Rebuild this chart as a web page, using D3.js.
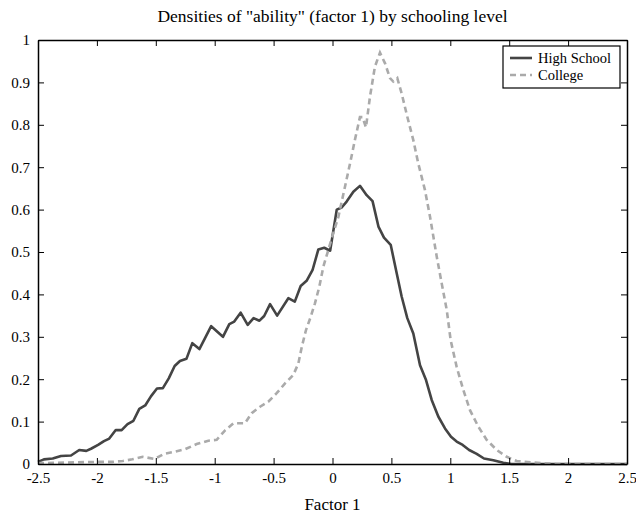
<!DOCTYPE html>
<html>
<head>
<meta charset="utf-8">
<script src="https://cdn.jsdelivr.net/npm/d3@7"></script>
<style>
  body { margin: 0; background: #fff; }
  text { font-family: "Liberation Serif", "DejaVu Serif", serif; fill: #000; }
</style>
</head>
<body>
<svg id="chart" width="636" height="514"></svg>
<script>
// factor 1 values and densities
const hsX = [-2.5, -2.45, -2.375, -2.305, -2.22, -2.15, -2.09, -2.05, -1.99, -1.94, -1.895, -1.84, -1.79, -1.74, -1.69, -1.64, -1.59, -1.54, -1.49, -1.44, -1.39, -1.34, -1.295, -1.24, -1.19, -1.13, -1.03, -0.93, -0.876, -0.834, -0.78, -0.72, -0.67, -0.62, -0.58, -0.53, -0.47, -0.375, -0.32, -0.27, -0.22, -0.17, -0.12, -0.07, -0.02, 0.036, 0.078, 0.12, 0.177, 0.233, 0.29, 0.34, 0.39, 0.437, 0.494, 0.545, 0.587, 0.635, 0.686, 0.743, 0.794, 0.842, 0.898, 0.955, 1.006, 1.054, 1.105, 1.16, 1.224, 1.286, 1.365, 1.45, 1.52, 2.5];
const hsY = [0.005, 0.011, 0.013, 0.019, 0.02, 0.033, 0.031, 0.036, 0.045, 0.054, 0.06, 0.08, 0.08, 0.094, 0.102, 0.13, 0.138, 0.16, 0.178, 0.179, 0.202, 0.231, 0.243, 0.248, 0.285, 0.271, 0.325, 0.300, 0.330, 0.336, 0.357, 0.328, 0.344, 0.338, 0.349, 0.377, 0.35, 0.391, 0.383, 0.42, 0.432, 0.457, 0.506, 0.51, 0.503, 0.60, 0.605, 0.619, 0.642, 0.656, 0.634, 0.62, 0.56, 0.534, 0.517, 0.45, 0.395, 0.344, 0.308, 0.233, 0.198, 0.151, 0.112, 0.084, 0.064, 0.053, 0.045, 0.033, 0.024, 0.013, 0.009, 0.003, 0, 0];

const colX = [-2.5, -2.0, -1.87, -1.78, -1.70, -1.61, -1.51, -1.43, -1.34, -1.25, -1.153, -1.054, -0.983, -0.91, -0.84, -0.743, -0.686, -0.615, -0.545, -0.474, -0.403, -0.333, -0.29, -0.26, -0.225, -0.185, -0.149, -0.112, -0.078, -0.044, -0.007, 0.05, 0.106, 0.149, 0.19, 0.233, 0.255, 0.284, 0.318, 0.36, 0.403, 0.446, 0.488, 0.516, 0.55, 0.587, 0.635, 0.686, 0.728, 0.785, 0.828, 0.885, 0.927, 0.97, 1.003, 1.054, 1.11, 1.167, 1.238, 1.309, 1.394, 1.479, 1.564, 1.68, 1.79, 1.9, 2.5];
const colY = [0.002, 0.005, 0.005, 0.007, 0.011, 0.017, 0.012, 0.024, 0.029, 0.035, 0.047, 0.055, 0.057, 0.08, 0.096, 0.096, 0.12, 0.135, 0.147, 0.167, 0.19, 0.21, 0.237, 0.277, 0.316, 0.347, 0.379, 0.418, 0.465, 0.497, 0.532, 0.583, 0.654, 0.709, 0.764, 0.818, 0.818, 0.794, 0.866, 0.937, 0.97, 0.945, 0.91, 0.902, 0.91, 0.874, 0.819, 0.764, 0.709, 0.646, 0.583, 0.489, 0.426, 0.363, 0.292, 0.229, 0.175, 0.127, 0.088, 0.057, 0.033, 0.017, 0.007, 0.004, 0.002, 0, 0];

const xTicks = [-2.5, -2, -1.5, -1, -0.5, 0, 0.5, 1, 1.5, 2, 2.5];
const yTicks = [0, 0.1, 0.2, 0.3, 0.4, 0.5, 0.6, 0.7, 0.8, 0.9, 1];
const seriesNames = ["High School", "College"];

const W = 636, H = 514;
const margin = {left: 38, right: 9, top: 40, bottom: 50};

let svg = d3.select('#chart');
let x = d3.scaleLinear().domain([-2.5, 2.5]).range([margin.left, W - margin.right]);
let y = d3.scaleLinear().domain([0, 1]).range([H - margin.bottom, margin.top]);

let line = d3.line().x(d => x(d[0])).y(d => y(d[1]));
let hs = d3.zip(hsX, hsY), col = d3.zip(colX, colY);

svg.append('path').datum(hs)
  .attr('d', line).attr('fill', 'none')
  .attr('stroke', '#444').attr('stroke-width', 2.6).attr('stroke-linejoin', 'round');
svg.append('path').datum(col)
  .attr('d', line).attr('fill', 'none')
  .attr('stroke', '#aaa').attr('stroke-width', 2.6).attr('stroke-dasharray', '6,4');

// axes, ticks pointing inward on all four sides
let fmt = d => String(d);
let axBottom = svg.append('g').attr('transform', `translate(0,${y(0)})`)
  .call(d3.axisBottom(x).tickValues(xTicks).tickFormat(fmt).tickSizeInner(-6).tickSizeOuter(0).tickPadding(8));
let axTop = svg.append('g').attr('transform', `translate(0,${y(1)})`)
  .call(d3.axisTop(x).tickValues(xTicks).tickFormat('').tickSizeInner(-6).tickSizeOuter(0));
let axLeft = svg.append('g').attr('transform', `translate(${x(-2.5)},0)`)
  .call(d3.axisLeft(y).tickValues(yTicks).tickFormat(fmt).tickSizeInner(-6).tickSizeOuter(0).tickPadding(8));
let axRight = svg.append('g').attr('transform', `translate(${x(2.5)},0)`)
  .call(d3.axisRight(y).tickValues(yTicks).tickFormat('').tickSizeInner(-6).tickSizeOuter(0));

[axBottom, axTop, axLeft, axRight].forEach(g => {
  g.select('.domain').attr('stroke', '#000').attr('stroke-width', 1.5);
  g.selectAll('.tick line').attr('stroke', '#000');
  g.selectAll('.tick text').attr('font-size', 15).attr('font-family', '"Liberation Serif", serif');
});

svg.append('text').attr('x', (x(-2.5) + x(2.5)) / 2).attr('y', 22)
  .attr('text-anchor', 'middle').attr('font-size', 17.5)
  .text('Densities of "ability" (factor 1) by schooling level');
svg.append('text').attr('x', (x(-2.5) + x(2.5)) / 2).attr('y', 510)
  .attr('text-anchor', 'middle').attr('font-size', 17)
  .text('Factor 1');

// legend
let lg = svg.append('g').attr('transform', 'translate(503,46)');
lg.append('rect').attr('width', 117).attr('height', 42)
  .attr('fill', '#fff').attr('stroke', '#000').attr('stroke-width', 1.2);
let styles = [{c: '#444', d: null}, {c: '#aaa', d: '6,4'}];
seriesNames.forEach((name, i) => {
  let yy = 12 + i * 17;
  lg.append('line').attr('x1', 7).attr('x2', 29).attr('y1', yy).attr('y2', yy)
    .attr('stroke', styles[i].c).attr('stroke-width', 2.6)
    .attr('stroke-dasharray', styles[i].d);
  lg.append('text').attr('x', 35).attr('y', yy + 5).attr('font-size', 14.5).text(name);
});
</script>
</body>
</html>
